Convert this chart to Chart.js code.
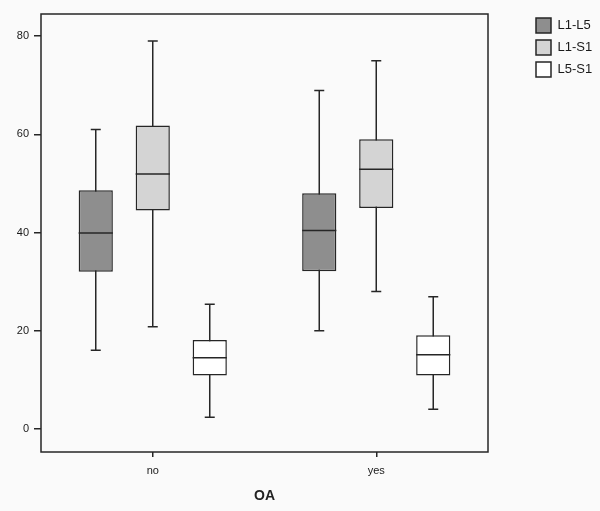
<!DOCTYPE html>
<html>
<head>
<meta charset="utf-8">
<script src="https://cdn.jsdelivr.net/npm/chart.js@4.4.0/dist/chart.umd.min.js"></script>
<style>
  body { margin: 0; background: #fafafa; }
  canvas { display: block; }
</style>
</head>
<body>
<canvas id="boxChart" width="600" height="511"></canvas>
<script>
const categories = ['no', 'yes'];
const seriesNames = ['L1-L5', 'L1-S1', 'L5-S1'];
const yTicks = [0, 20, 40, 60, 80];

// five-number summaries, one value per category
const l1l5Min = [16.0, 20.0];
const l1l5Q1 = [32.0, 32.1];
const l1l5Median = [39.9, 40.4];
const l1l5Q3 = [48.6, 48.0];
const l1l5Max = [61.0, 68.9];

const l1s1Min = [20.8, 28.0];
const l1s1Q1 = [44.5, 45.0];
const l1s1Median = [51.9, 52.9];
const l1s1Q3 = [61.8, 59.0];
const l1s1Max = [79.0, 75.0];

const l5s1Min = [2.4, 4.0];
const l5s1Q1 = [10.9, 10.9];
const l5s1Median = [14.5, 15.1];
const l5s1Q3 = [18.1, 19.1];
const l5s1Max = [25.4, 26.9];

const boxStats = [
    { min: l1l5Min, q1: l1l5Q1, med: l1l5Median, q3: l1l5Q3, max: l1l5Max },
    { min: l1s1Min, q1: l1s1Q1, med: l1s1Median, q3: l1s1Q3, max: l1s1Max },
    { min: l5s1Min, q1: l5s1Q1, med: l5s1Median, q3: l5s1Q3, max: l5s1Max }
];
const fills = ['#8e8e8e', '#d4d4d4', '#ffffff'];
const ink = '#262626';

// whiskers go under the boxes, medians on top, frame round the plot area
const boxPlotPlugin = {
    id: 'boxPlot',
    beforeLayout(chart) {
        const legend = chart.legend;
        if (legend && !legend._fixedFit) {
            const origFit = legend.fit;
            legend.fit = function () {
                origFit.call(this);
                this.width = 112;
            };
            legend._fixedFit = true;
        }
    },
    afterLayout(chart) {
        const legend = chart.legend;
        legend.left += 41;
        legend.right += 41;
        legend.top -= 3;
        legend.bottom -= 3;
    },
    beforeDatasetsDraw(chart) {
        const ctx = chart.ctx;
        const y = chart.scales.y;
        ctx.save();
        ctx.strokeStyle = ink;
        ctx.lineWidth = 1.5;
        boxStats.forEach((s, i) => {
            chart.getDatasetMeta(i).data.forEach((bar, j) => {
                const top = y.getPixelForValue(s.max[j]);
                const bottom = y.getPixelForValue(s.min[j]);
                ctx.beginPath();
                ctx.moveTo(bar.x, top);
                ctx.lineTo(bar.x, bottom);
                ctx.moveTo(bar.x - 5, top);
                ctx.lineTo(bar.x + 5, top);
                ctx.moveTo(bar.x - 5, bottom);
                ctx.lineTo(bar.x + 5, bottom);
                ctx.stroke();
            });
        });
        ctx.restore();
    },
    afterDatasetsDraw(chart) {
        const ctx = chart.ctx;
        const y = chart.scales.y;
        const area = chart.chartArea;
        ctx.save();
        ctx.strokeStyle = ink;
        ctx.lineWidth = 1.5;
        boxStats.forEach((s, i) => {
            chart.getDatasetMeta(i).data.forEach((bar, j) => {
                const m = y.getPixelForValue(s.med[j]);
                ctx.beginPath();
                ctx.moveTo(bar.x - bar.width / 2, m);
                ctx.lineTo(bar.x + bar.width / 2, m);
                ctx.stroke();
            });
        });
        ctx.strokeRect(area.left, area.top, area.right - area.left, area.bottom - area.top);
        ctx.restore();
    }
};

new Chart(document.getElementById('boxChart'), {
    type: 'bar',
    data: {
        labels: categories,
        datasets: seriesNames.map((name, i) => ({
            label: name,
            data: categories.map((c, j) => [boxStats[i].q1[j], boxStats[i].q3[j]]),
            backgroundColor: fills[i],
            borderColor: ink,
            borderWidth: 1.5,
            borderSkipped: false,
            categoryPercentage: 0.765,
            barPercentage: 0.6
        }))
    },
    options: {
        responsive: false,
        animation: false,
        layout: { padding: { top: 14, left: 0, right: 0, bottom: 0 } },
        plugins: {
            tooltip: { enabled: false },
            legend: {
                position: 'right',
                align: 'start',
                labels: {
                    boxWidth: 15,
                    boxHeight: 15,
                    padding: 7,
                    color: '#1a1a1a',
                    font: { family: 'Liberation Sans', size: 13 }
                }
            }
        },
        scales: {
            x: {
                offset: true,
                border: { display: false },
                grid: { offset: false, drawOnChartArea: false, tickLength: 5, color: ink, lineWidth: 1.5 },
                ticks: { color: '#1a1a1a', padding: 7, font: { family: 'Liberation Sans', size: 11 } },
                title: {
                    display: true,
                    text: 'OA',
                    color: '#222',
                    font: { family: 'Liberation Sans', size: 14, weight: 'bold' },
                    padding: { top: 4, bottom: 6 }
                }
            },
            y: {
                min: -4.7,
                max: 84.5,
                border: { display: false },
                grid: { drawOnChartArea: false, tickLength: 7, color: ink, lineWidth: 1.5 },
                ticks: { color: '#1a1a1a', padding: 5, includeBounds: false, font: { family: 'Liberation Sans', size: 11 } },
                afterBuildTicks: scale => { scale.ticks = yTicks.map(v => ({ value: v })); },
                afterFit: scale => { scale.width = 41; }
            }
        }
    },
    plugins: [boxPlotPlugin]
});
</script>
</body>
</html>
